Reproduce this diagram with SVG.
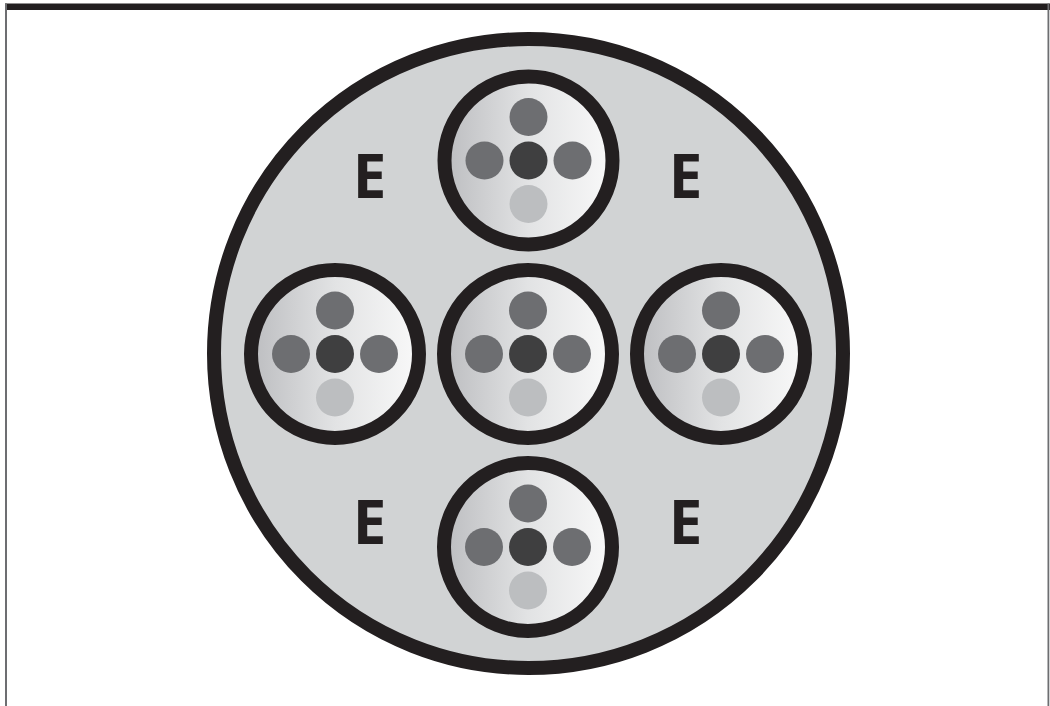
<svg xmlns="http://www.w3.org/2000/svg" width="1050" height="706" viewBox="0 0 1050 706">
  <defs>
    <linearGradient id="inner" x1="0" y1="0" x2="1" y2="0">
      <stop offset="0" stop-color="#bcbdc0"/>
      <stop offset="0.5" stop-color="#e2e3e4"/>
      <stop offset="1" stop-color="#f9f9f9"/>
    </linearGradient>
    <g id="conn">
      <circle r="84" fill="url(#inner)" stroke="#231f20" stroke-width="14"/>
      <circle cx="0" cy="-43.5" r="19" fill="#6d6e71"/>
      <circle cx="-44" cy="0" r="19" fill="#6d6e71"/>
      <circle cx="44" cy="0" r="19" fill="#6d6e71"/>
      <circle cx="0" cy="0" r="19" fill="#3f3f40"/>
      <circle cx="0" cy="43.5" r="19" fill="#bcbec0"/>
    </g>
    <style>
      .lbl { font-family: "Open Sans", "Liberation Sans", sans-serif; font-weight: 700; font-size: 60px; fill: #231f20; text-anchor: middle; }
    </style>
  </defs>
  <rect width="1050" height="706" fill="#ffffff"/>
  <g id="frame">
    <rect x="5" y="3.5" width="1045" height="6.5" fill="#231f20"/>
    <rect x="5" y="3.5" width="2" height="702.5" fill="#6d6e71"/>
    <rect x="1047.5" y="3.5" width="1.8" height="702.5" fill="#6d6e71"/>
  </g>
  <g id="outer">
    <circle cx="528.5" cy="353.5" r="314.5" fill="#d1d3d4" stroke="#231f20" stroke-width="14"/>
  </g>
  <g id="top"><use href="#conn" x="528.5" y="160.5"/></g>
  <g id="left"><use href="#conn" x="335" y="354"/></g>
  <g id="center"><use href="#conn" x="528" y="354"/></g>
  <g id="right"><use href="#conn" x="721" y="354"/></g>
  <g id="bottom"><use href="#conn" x="528" y="547"/></g>
  <g id="labels">
    <text class="lbl" x="369.5" y="198">E</text>
    <text class="lbl" x="685.5" y="198">E</text>
    <text class="lbl" x="369.5" y="544">E</text>
    <text class="lbl" x="685.5" y="544">E</text>
  </g>
</svg>
